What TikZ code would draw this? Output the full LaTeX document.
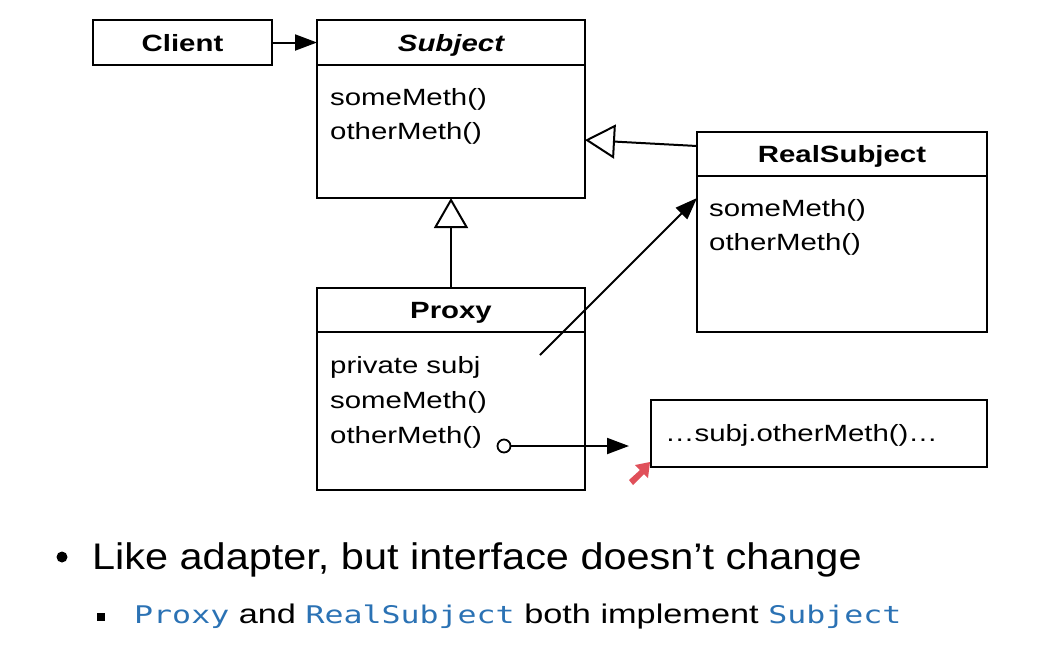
\documentclass[tikz,border=0pt]{standalone}
\usepackage{fontspec}
\usetikzlibrary{positioning, calc, arrows.meta}
\newfontfamily\diagfont{Liberation Sans}[FakeStretch=1.25]
\newfontfamily\bulletfont{Liberation Sans}[FakeStretch=1.12]
\newfontfamily\slidefont{Liberation Sans}[FakeStretch=1.27]
\newfontfamily\codefont{DejaVu Sans Mono}[FakeStretch=1.3]
\definecolor{codeblue}{HTML}{2B72B4}
\definecolor{cursorred}{HTML}{E0505A}
\newcommand{\codeword}[1]{{\codefont\fontsize{24.3}{28}\selectfont\textcolor{codeblue}{#1}}}

\begin{document}
\begin{tikzpicture}[x=1pt, y=-1pt,
        uml/.style={draw, line width=2pt, inner sep=0pt, outer sep=0pt},
        head/.style={uml, font=\diagfont\fontsize{23.5}{34}\selectfont\bfseries, text height=17pt, text depth=0pt},
        member/.style={anchor=base west, inner sep=0pt, font=\diagfont\fontsize{23.5}{34}\selectfont},
        solid tip/.style={-{Triangle[length=22pt, width=16pt]}, line width=2pt},
        open tip/.style={-{Triangle[open, length=30pt, width=34pt, fill=white]}, line width=2pt}]
    \useasboundingbox (0,0) rectangle (1062,657);

    % class boxes
    \node[head, minimum width=179pt, minimum height=45pt] (client) at (182.5,42.5) {Client};
    \node[head, minimum width=268pt, minimum height=45pt] (subjhead) at (451,42.5) {\itshape Subject};
    \node[uml, minimum width=268pt, minimum height=133pt, below=0pt of subjhead] (subjbody) {};
    \node[member] (subjm1) at (330,105) {someMeth()};
    \node[member] (subjm2) at (330,139) {otherMeth()};

    \node[head, minimum width=290pt, minimum height=44pt] (rshead) at (842,154) {RealSubject};
    \node[uml, minimum width=290pt, minimum height=156pt, below=0pt of rshead] (rsbody) {};
    \node[member] (rsm1) at (709,216) {someMeth()};
    \node[member] (rsm2) at (709,250) {otherMeth()};

    \node[head, minimum width=268pt, minimum height=44pt] (proxyhead) at (451,310) {Proxy};
    \node[uml, minimum width=268pt, minimum height=158pt, below=0pt of proxyhead] (proxybody) {};
    \node[member] (proxym0) at (330,373) {private subj};
    \node[member] (proxym1) at (330,408) {someMeth()};
    \node[member] (proxym2) at (330,443) {otherMeth()};

    \node[uml, minimum width=336pt, minimum height=67pt] (call) at (819,433.5) {};
    \node[member] (calltext) at (665,441) {…subj.otherMeth()…};

    % relations
    \draw[solid tip] (client) -- (subjhead);
    \draw[open tip] ([yshift=8pt]rshead.west) -- ([yshift=-8.5pt]subjbody.east);
    \draw[open tip] (proxyhead) -- (subjbody);
    \coordinate (subjref) at (540,355);
    \draw[solid tip] (subjref) -- ([yshift=56pt]rsbody.west);
    \node[circle, draw, line width=1.8pt, minimum size=13pt, inner sep=0pt] (dot) at (504,446) {};
    \coordinate (callend) at (629,446);
    \draw[solid tip] (dot) -- (callend);

    % pointer
    \fill[cursorred] (650,462) -- (635,465) -- (640,470) -- (629,480) -- (633,485) -- (644,474) -- (648,478) -- cycle;

    % bullets
    \node[circle, fill, inner sep=0pt, minimum size=11pt] (bul1) at (62,557) {};
    \node[anchor=base west, inner sep=0pt, font=\bulletfont\fontsize{37}{44}\selectfont] (pt1) at (92,569) {Like adapter, but interface doesn’t change};
    \node[fill, inner sep=0pt, minimum size=8pt] (bul2) at (101,617) {};
    \node[anchor=base west, inner sep=0pt, font=\slidefont\fontsize{27}{30}\selectfont] (pt2) at (134,623) {\codeword{Proxy} and \codeword{RealSubject} both implement \codeword{Subject}};
\end{tikzpicture}
\end{document}
